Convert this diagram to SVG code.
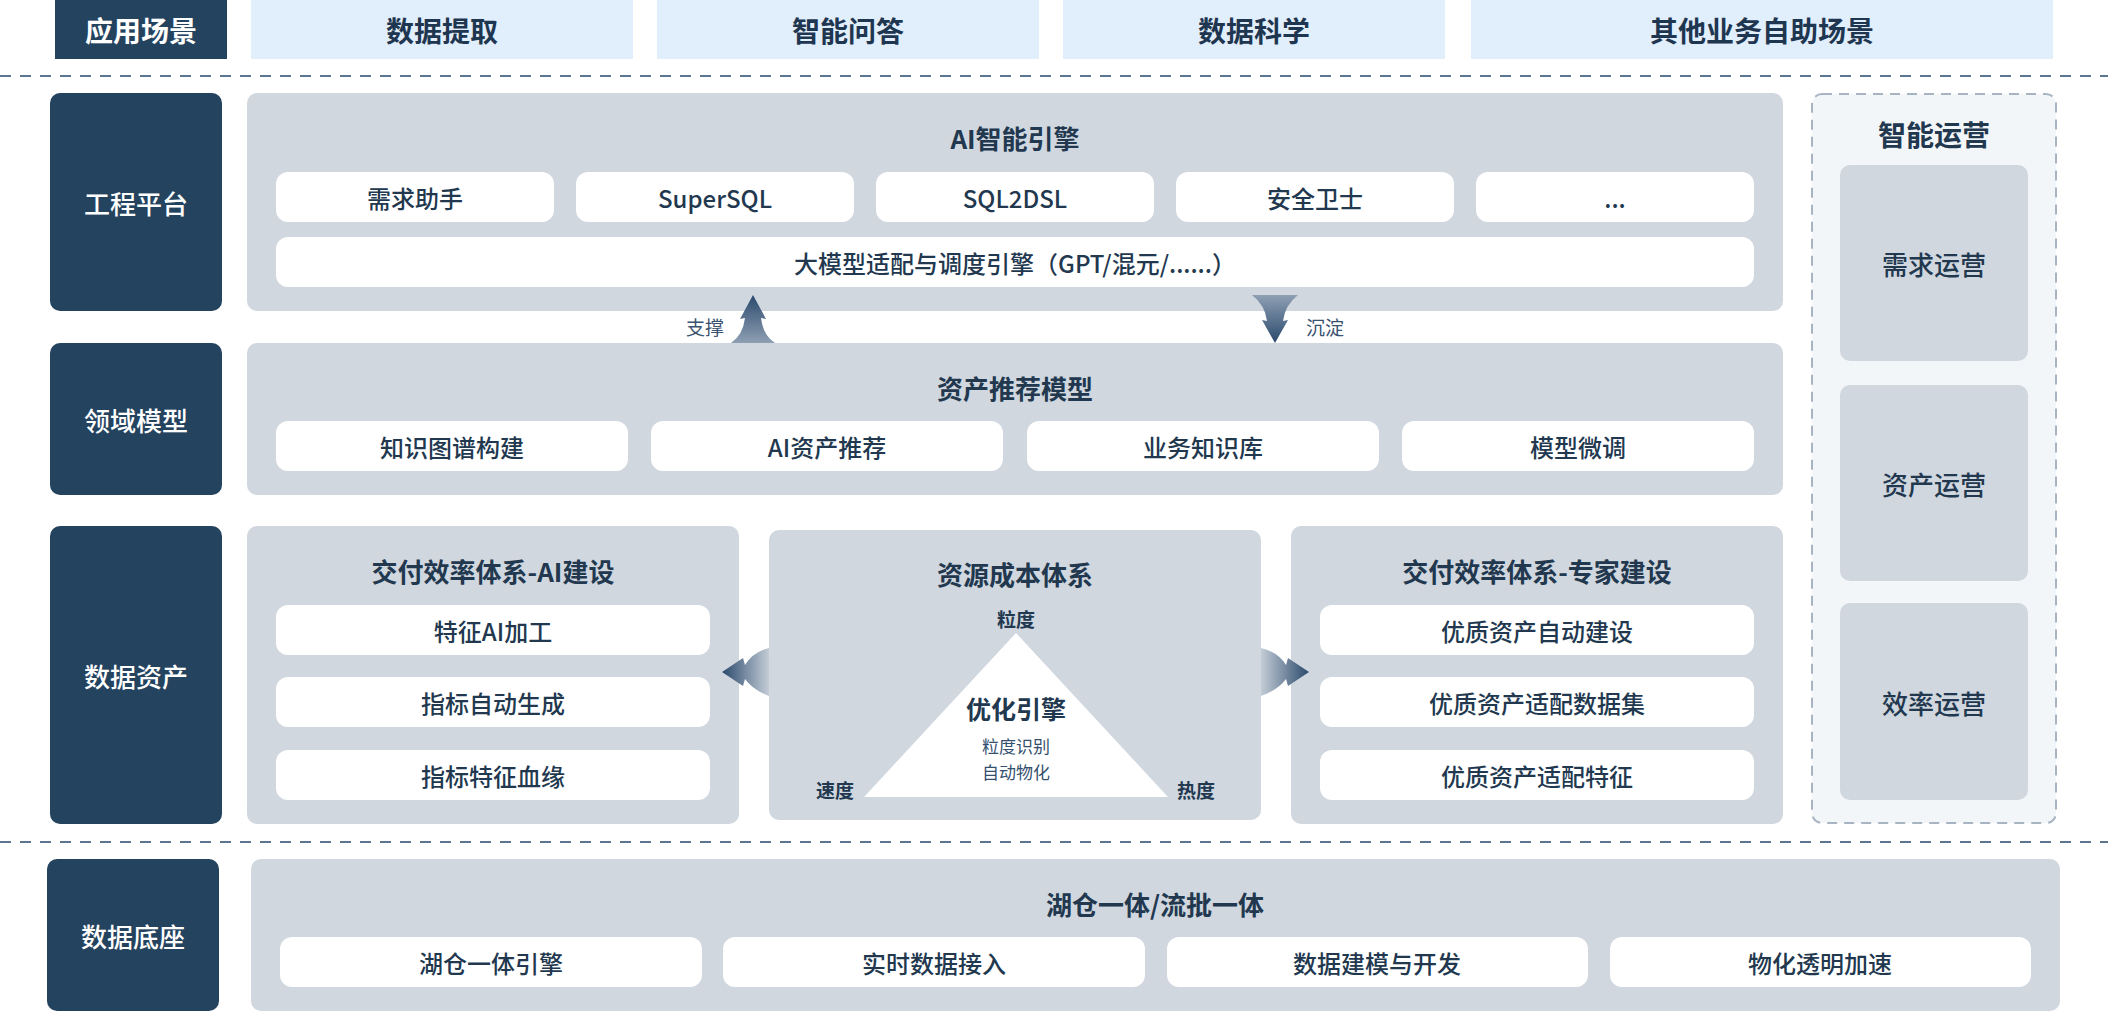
<svg xmlns="http://www.w3.org/2000/svg" width="2108" height="1013" viewBox="0 0 2108 1013">
<style>
text{font-family:"Noto Sans CJK SC","Liberation Sans",sans-serif;text-anchor:middle;dominant-baseline:central;fill:#22384f}
.navy{fill:#24435f}
.nav-t{fill:#ffffff;font-size:26px;font-weight:500}
.top{fill:#e1eefc}
.top-t{font-size:28px;font-weight:700;fill:#1f3650}
.panel{fill:#d0d7df}
.title{font-size:26px;font-weight:700}
.box{fill:#ffffff}
.box-t{font-size:24px;font-weight:500}
.ops-t{font-size:26px;font-weight:500}
.sm{font-size:19px;font-weight:400;fill:#3a5270}
.lbl{font-size:19px;font-weight:700}
.sub{font-size:17px;font-weight:400;fill:#34506e}
.dash{stroke:#5b7592;stroke-width:2;stroke-dasharray:11 9;fill:none}
</style>
<defs>
<linearGradient id="gUp" x1="0" y1="0" x2="0" y2="1"><stop offset="0" stop-color="#2b4a6d"/><stop offset="1" stop-color="#8e9fb3"/></linearGradient>
<linearGradient id="gDown" x1="0" y1="0" x2="0" y2="1"><stop offset="0" stop-color="#8e9fb3"/><stop offset="1" stop-color="#2b4a6d"/></linearGradient>
<linearGradient id="gLeft" x1="0" y1="0" x2="1" y2="0"><stop offset="0" stop-color="#2b4a6d"/><stop offset="1" stop-color="#c3ccd6"/></linearGradient>
<linearGradient id="gRight" x1="1" y1="0" x2="0" y2="0"><stop offset="0" stop-color="#2b4a6d"/><stop offset="1" stop-color="#c3ccd6"/></linearGradient>
</defs>
<rect width="2108" height="1013" fill="#ffffff"/>

<!-- separators -->
<line class="dash" x1="0" y1="76" x2="2108" y2="76"/>
<line class="dash" x1="0" y1="842" x2="2108" y2="842"/>

<!-- top row -->
<g id="row-scene">
<rect class="navy" x="55" y="0" width="172" height="59"/>
<text class="nav-t" x="141" y="30" style="font-size:28px;font-weight:700">应用场景</text>
</g>
<g id="scene-extract"><rect class="top" x="251" y="0" width="382" height="59"/><text class="top-t" x="442" y="30">数据提取</text></g>
<g id="scene-qa"><rect class="top" x="657" y="0" width="382" height="59"/><text class="top-t" x="848" y="30">智能问答</text></g>
<g id="scene-ds"><rect class="top" x="1063" y="0" width="382" height="59"/><text class="top-t" x="1254" y="30">数据科学</text></g>
<g id="scene-other"><rect class="top" x="1471" y="0" width="582" height="59"/><text class="top-t" x="1762" y="30">其他业务自助场景</text></g>

<!-- left labels -->
<g id="label-eng"><rect class="navy" x="50" y="93" width="172" height="218" rx="10"/><text class="nav-t" x="136" y="202">工程平台</text></g>
<g id="label-domain"><rect class="navy" x="50" y="343" width="172" height="152" rx="10"/><text class="nav-t" x="136" y="419">领域模型</text></g>
<g id="label-asset"><rect class="navy" x="50" y="526" width="172" height="298" rx="10"/><text class="nav-t" x="136" y="675">数据资产</text></g>
<g id="label-base"><rect class="navy" x="47" y="859" width="172" height="152" rx="10"/><text class="nav-t" x="133" y="935">数据底座</text></g>

<!-- AI engine -->
<g id="ai-engine">
<rect class="panel" x="247" y="93" width="1536" height="218" rx="10"/>
<text class="title" x="1015" y="137">AI智能引擎</text>
<rect class="box" x="276" y="172" width="278" height="50" rx="12"/><text class="box-t" x="415" y="197">需求助手</text>
<rect class="box" x="576" y="172" width="278" height="50" rx="12"/><text class="box-t" x="715" y="197">SuperSQL</text>
<rect class="box" x="876" y="172" width="278" height="50" rx="12"/><text class="box-t" x="1015" y="197">SQL2DSL</text>
<rect class="box" x="1176" y="172" width="278" height="50" rx="12"/><text class="box-t" x="1315" y="197">安全卫士</text>
<rect class="box" x="1476" y="172" width="278" height="50" rx="12"/><text class="box-t" x="1615" y="197">...</text>
<rect class="box" x="276" y="237" width="1478" height="50" rx="12"/><text class="box-t" x="1015" y="262">大模型适配与调度引擎（GPT/混元/......）</text>
</g>

<!-- domain model -->
<g id="domain-model">
<rect class="panel" x="247" y="343" width="1536" height="152" rx="10"/>
<text class="title" x="1015" y="387">资产推荐模型</text>
<rect class="box" x="276" y="421" width="352" height="50" rx="12"/><text class="box-t" x="452" y="446">知识图谱构建</text>
<rect class="box" x="651" y="421" width="352" height="50" rx="12"/><text class="box-t" x="827" y="446">AI资产推荐</text>
<rect class="box" x="1027" y="421" width="352" height="50" rx="12"/><text class="box-t" x="1203" y="446">业务知识库</text>
<rect class="box" x="1402" y="421" width="352" height="50" rx="12"/><text class="box-t" x="1578" y="446">模型微调</text>
</g>

<!-- delivery AI -->
<g id="delivery-ai">
<rect class="panel" x="247" y="526" width="492" height="298" rx="10"/>
<text class="title" x="493" y="570">交付效率体系-AI建设</text>
<rect class="box" x="276" y="605" width="434" height="50" rx="12"/><text class="box-t" x="493" y="630">特征AI加工</text>
<rect class="box" x="276" y="677" width="434" height="50" rx="12"/><text class="box-t" x="493" y="702">指标自动生成</text>
<rect class="box" x="276" y="750" width="434" height="50" rx="12"/><text class="box-t" x="493" y="775">指标特征血缘</text>
</g>

<!-- resource cost -->
<g id="resource-cost">
<rect class="panel" x="769" y="530" width="492" height="290" rx="10"/>
<text class="title" x="1015" y="573">资源成本体系</text>
<polygon points="1016,633 864,797 1168,797" fill="#ffffff"/>
<text class="lbl" x="1016" y="618">粒度</text>
<text class="lbl" x="835" y="789">速度</text>
<text class="lbl" x="1196" y="789">热度</text>
<text class="title" x="1016" y="708" style="font-size:25px">优化引擎</text>
<text class="sub" x="1016" y="745">粒度识别</text>
<text class="sub" x="1016" y="771">自动物化</text>
</g>

<!-- delivery expert -->
<g id="delivery-expert">
<rect class="panel" x="1291" y="526" width="492" height="298" rx="10"/>
<text class="title" x="1537" y="570">交付效率体系-专家建设</text>
<rect class="box" x="1320" y="605" width="434" height="50" rx="12"/><text class="box-t" x="1537" y="630">优质资产自动建设</text>
<rect class="box" x="1320" y="677" width="434" height="50" rx="12"/><text class="box-t" x="1537" y="702">优质资产适配数据集</text>
<rect class="box" x="1320" y="750" width="434" height="50" rx="12"/><text class="box-t" x="1537" y="775">优质资产适配特征</text>
</g>

<!-- smart ops -->
<g id="smart-ops">
<rect x="1812" y="94" width="244" height="729" rx="10" fill="#f3f6f9" stroke="#a8b4c2" stroke-width="2" stroke-dasharray="10 7"/>
<text class="title" x="1934" y="134" style="font-size:28px">智能运营</text>
<rect class="panel" x="1840" y="165" width="188" height="196" rx="10"/><text class="ops-t" x="1934" y="263">需求运营</text>
<rect class="panel" x="1840" y="385" width="188" height="196" rx="10"/><text class="ops-t" x="1934" y="483">资产运营</text>
<rect class="panel" x="1840" y="603" width="188" height="197" rx="10"/><text class="ops-t" x="1934" y="702">效率运营</text>
</g>

<!-- data base -->
<g id="data-base">
<rect class="panel" x="251" y="859" width="1809" height="152" rx="10"/>
<text class="title" x="1155" y="903">湖仓一体/流批一体</text>
<rect class="box" x="280" y="937" width="422" height="50" rx="12"/><text class="box-t" x="491" y="962">湖仓一体引擎</text>
<rect class="box" x="723" y="937" width="422" height="50" rx="12"/><text class="box-t" x="934" y="962">实时数据接入</text>
<rect class="box" x="1167" y="937" width="421" height="50" rx="12"/><text class="box-t" x="1377" y="962">数据建模与开发</text>
<rect class="box" x="1610" y="937" width="421" height="50" rx="12"/><text class="box-t" x="1820" y="962">物化透明加速</text>
</g>

<!-- connectors -->
<g id="connectors">
<path d="M753,295 L766,319 L761,318 Q763,335 775,343 L731,343 Q743,335 745,318 L740,319 Z" fill="url(#gUp)"/>
<text class="sm" x="705" y="326">支撑</text>
<path d="M1252,295 L1298,295 Q1285,305 1283,321 L1288,320 L1275,343 L1262,320 L1267,321 Q1265,305 1252,295 Z" fill="url(#gDown)"/>
<text class="sm" x="1325" y="326">沉淀</text>
<path d="M722,672 L743,658 L745,665 Q753,652 769,648 L769,696 Q753,690 745,679 L743,686 Z" fill="url(#gLeft)"/>
<path d="M1309,672 L1288,658 L1286,665 Q1278,652 1261,648 L1261,696 Q1278,690 1286,679 L1288,686 Z" fill="url(#gRight)"/>
</g>
</svg>
